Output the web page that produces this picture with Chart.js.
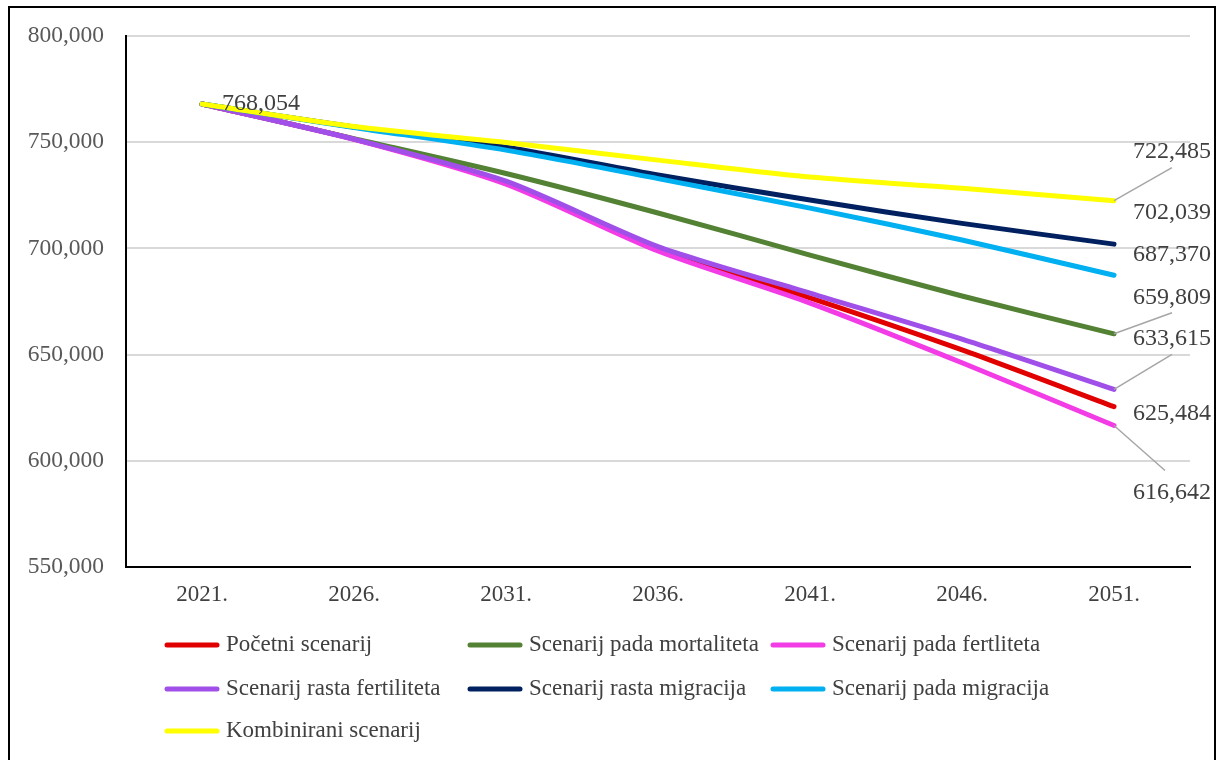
<!DOCTYPE html>
<html>
<head>
<meta charset="utf-8">
<script src="https://cdn.jsdelivr.net/npm/chart.js@4.4.0/dist/chart.umd.min.js"></script>
<style>
  html, body { margin: 0; padding: 0; background: #fff; }
  #wrap { position: relative; width: 1220px; height: 760px; overflow: hidden; }
  #frame { position: absolute; left: 8px; top: 6px; width: 1208px; height: 820px; border: 2px solid #000; box-sizing: border-box; }
  canvas { position: absolute; left: 0; top: 0; }
</style>
</head>
<body>
<div id="wrap">
  <div id="frame"></div>
  <canvas id="grafico" width="1220" height="760"></canvas>
</div>
<script>
const years = ['2021.', '2026.', '2031.', '2036.', '2041.', '2046.', '2051.'];
const yTicks = [550000, 600000, 650000, 700000, 750000, 800000];

const pocetni = [768054, 751500, 731200, 699700, 676700, 652200, 625484];
const padaMortaliteta = [768054, 751700, 735300, 716700, 696900, 677600, 659809];
const padaFertliteta = [768054, 751400, 730300, 698800, 674300, 646200, 616642];
const rastaFertiliteta = [768054, 751500, 731700, 700900, 679000, 657300, 633615];
const rastaMigracija = [768054, 757200, 747700, 734600, 722800, 711800, 702039];
const padaMigracija = [768054, 757000, 746300, 732900, 719000, 704000, 687370];
const kombinirani = [768054, 757400, 749900, 741600, 733600, 728300, 722485];

const seriesNames = [
  'Početni scenarij',
  'Scenarij pada mortaliteta',
  'Scenarij pada fertliteta',
  'Scenarij rasta fertiliteta',
  'Scenarij rasta migracija',
  'Scenarij pada migracija',
  'Kombinirani scenarij',
];
const seriesData = [pocetni, padaMortaliteta, padaFertliteta, rastaFertiliteta, rastaMigracija, padaMigracija, kombinirani];
const seriesColors = ['#E00000', '#548235', '#F23CE6', '#A050E8', '#002060', '#00B0F0', '#FFFF00'];

const serif = "'Liberation Serif', 'Times New Roman', serif";
const fmt = (v) => v.toLocaleString('en-US');

// end label placement relative to the last point, optional leader line end
const endLabels = [
  { dx: 58, dy: 7, leader: null },
  { dx: 58, dy: -36, leader: [58, -21] },
  { dx: 58, dy: 67, leader: [51, 45] },
  { dx: 58, dy: -51, leader: [58, -35] },
  { dx: 58, dy: -31, leader: null },
  { dx: 58, dy: -21, leader: null },
  { dx: 58, dy: -49, leader: [58, -33] },
];

const labelsPlugin = {
  id: 'valueLabels',
  afterDatasetsDraw(chart) {
    const ctx = chart.ctx;
    ctx.save();
    ctx.font = '24px ' + serif;
    ctx.fillStyle = '#404040';
    ctx.textBaseline = 'middle';

    const first = chart.getDatasetMeta(0).data[0];
    ctx.textAlign = 'left';
    ctx.fillText(fmt(seriesData[0][0]), first.x + 20, first.y);

    chart.data.datasets.forEach((ds, i) => {
      const pts = chart.getDatasetMeta(i).data;
      const p = pts[pts.length - 1];
      const cfg = endLabels[i];
      if (cfg.leader) {
        ctx.strokeStyle = '#A6A6A6';
        ctx.lineWidth = 1.5;
        ctx.beginPath();
        ctx.moveTo(p.x, p.y);
        ctx.lineTo(p.x + cfg.leader[0], p.y + cfg.leader[1]);
        ctx.stroke();
      }
      ctx.textAlign = 'center';
      ctx.fillText(fmt(ds.data[ds.data.length - 1]), p.x + cfg.dx, p.y + cfg.dy);
    });
    ctx.restore();
  },
};

const legendPlugin = {
  id: 'gridLegend',
  afterDraw(chart) {
    const ctx = chart.ctx;
    const cols = [165, 468, 771];
    const rows = [645, 689, 731];
    ctx.save();
    ctx.font = '23px ' + serif;
    ctx.textBaseline = 'middle';
    ctx.textAlign = 'left';
    chart.data.datasets.forEach((ds, i) => {
      const x = cols[i % 3];
      const y = rows[Math.floor(i / 3)];
      ctx.strokeStyle = ds.borderColor;
      ctx.lineWidth = 5;
      ctx.lineCap = 'round';
      ctx.beginPath();
      ctx.moveTo(x + 2, y);
      ctx.lineTo(x + 52, y);
      ctx.stroke();
      ctx.fillStyle = '#404040';
      ctx.fillText(ds.label, x + 61, y);
    });
    ctx.restore();
  },
};

new Chart(document.getElementById('grafico'), {
  type: 'line',
  data: {
    labels: years,
    datasets: seriesNames.map((name, i) => ({
      label: name,
      data: seriesData[i],
      borderColor: seriesColors[i],
      backgroundColor: seriesColors[i],
      borderWidth: 5,
      borderCapStyle: 'round',
      borderJoinStyle: 'round',
      pointRadius: 0,
      tension: 0.25,
      fill: false,
      order: seriesNames.length - i,
    })),
  },
  options: {
    responsive: false,
    animation: false,
    layout: { padding: { top: 36, right: 30, bottom: 153, left: 0 } },
    plugins: {
      legend: { display: false },
      tooltip: { enabled: false },
    },
    scales: {
      x: {
        offset: true,
        grid: { display: false, drawTicks: false },
        border: { display: true, color: '#000', width: 2 },
        ticks: { color: '#404040', font: { family: serif, size: 23 }, padding: 14 },
        afterFit(scale) { scale.height = 40; },
      },
      y: {
        min: 550000,
        max: 800000,
        afterBuildTicks(scale) { scale.ticks = yTicks.map((v) => ({ value: v })); },
        grid: { color: '#D9D9D9', lineWidth: 2, drawTicks: false },
        border: { display: true, color: '#000', width: 2 },
        ticks: {
          color: '#595959',
          font: { family: serif, size: 23.5 },
          padding: 22,
          callback: (v) => fmt(v),
        },
        afterFit(scale) { scale.width = 126; },
      },
    },
  },
  plugins: [labelsPlugin, legendPlugin],
});
</script>
</body>
</html>
